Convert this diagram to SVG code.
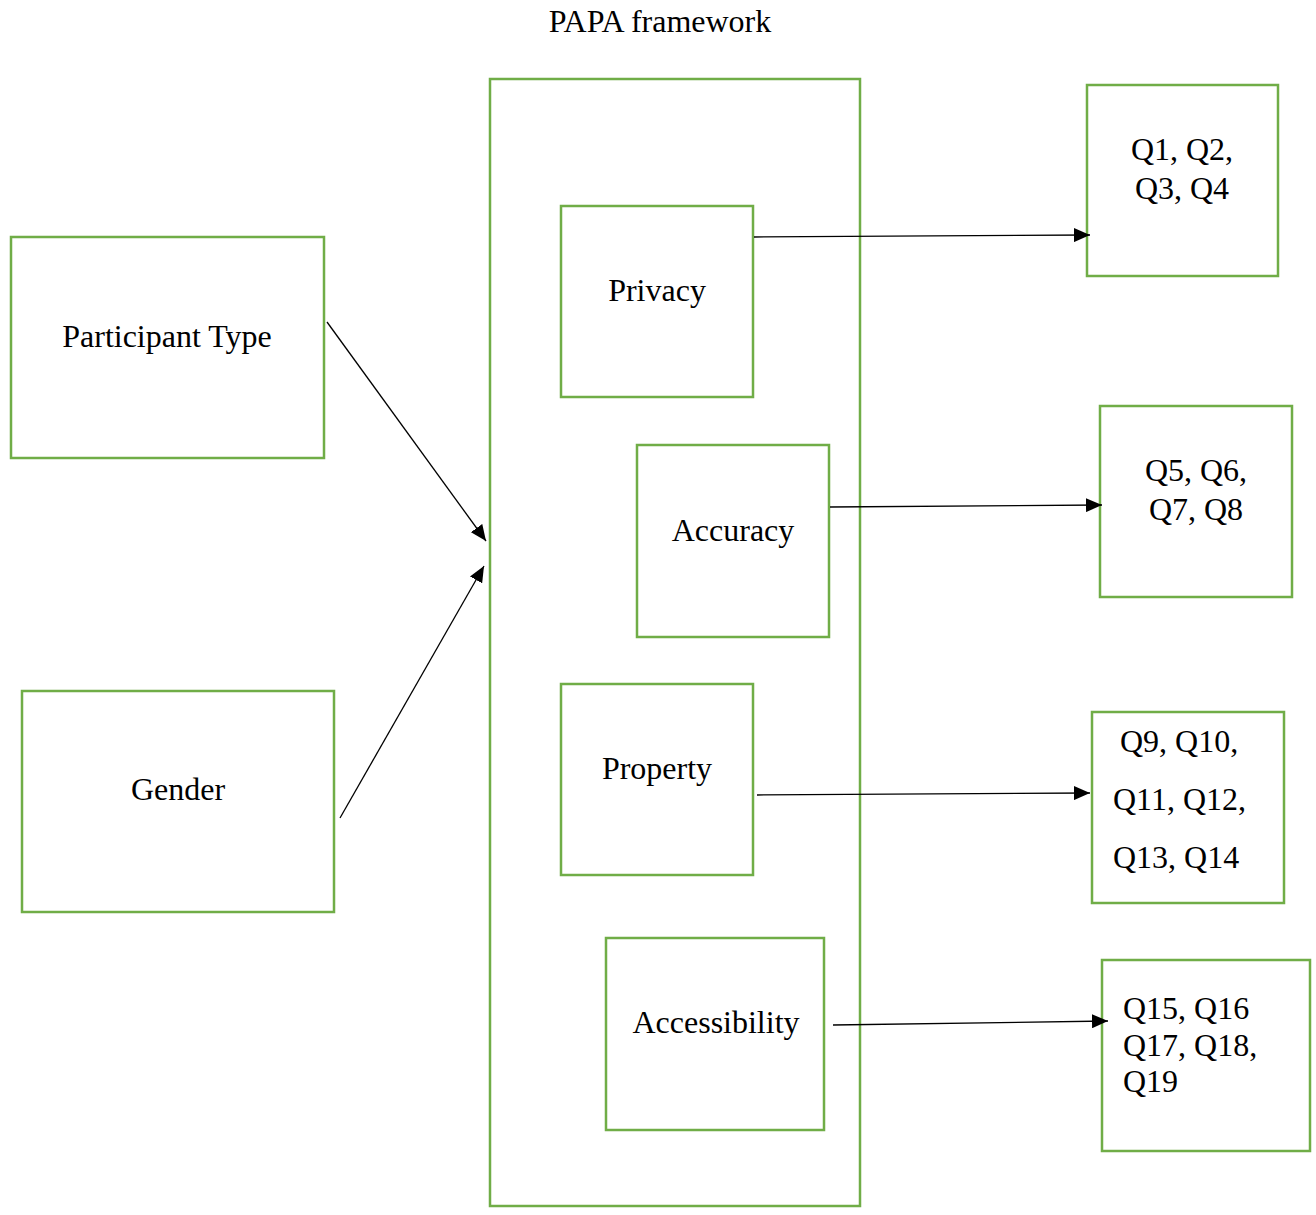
<svg xmlns="http://www.w3.org/2000/svg" width="1316" height="1215" viewBox="0 0 1316 1215">
<style>
.box{fill:none;stroke:#70AD47;stroke-width:2.5}
.t{font-family:"Liberation Serif","Times New Roman",serif;font-size:32px;fill:#000}
.c{text-anchor:middle}
.con{stroke:#000;stroke-width:1.3;fill:none;marker-end:url(#ah)}
</style>
<defs>
<marker id="ah" markerUnits="userSpaceOnUse" markerWidth="16" markerHeight="14" refX="16" refY="7" orient="auto">
<path d="M0,0 L16,7 L0,14 Z" fill="#000"/>
</marker>
</defs>
<rect width="1316" height="1215" fill="#fff"/>
<text class="t c" x="660" y="32">PAPA framework</text>
<g id="papa"><rect class="box" x="490" y="79" width="370" height="1127"/></g>
<g id="participant"><rect class="box" x="11" y="237" width="313" height="221"/><text class="t c" x="167" y="347">Participant Type</text></g>
<g id="gender"><rect class="box" x="22" y="691" width="312" height="221"/><text class="t c" x="178" y="800">Gender</text></g>
<g id="privacy"><rect class="box" x="561" y="206" width="192" height="191"/><text class="t c" x="657" y="301">Privacy</text></g>
<g id="accuracy"><rect class="box" x="637" y="445" width="192" height="192"/><text class="t c" x="733" y="541">Accuracy</text></g>
<g id="property"><rect class="box" x="561" y="684" width="192" height="191"/><text class="t c" x="657" y="779">Property</text></g>
<g id="accessibility"><rect class="box" x="606" y="938" width="218" height="192"/><text class="t c" x="716" y="1033">Accessibility</text></g>
<g id="q1"><rect class="box" x="1087" y="85" width="191" height="191"/><text class="t c" x="1182" y="160">Q1, Q2,</text><text class="t c" x="1182" y="199">Q3, Q4</text></g>
<g id="q5"><rect class="box" x="1100" y="406" width="192" height="191"/><text class="t c" x="1196" y="481">Q5, Q6,</text><text class="t c" x="1196" y="520">Q7, Q8</text></g>
<g id="q9"><rect class="box" x="1092" y="712" width="192" height="191"/><text class="t" x="1120" y="752">Q9, Q10,</text><text class="t" x="1113" y="810">Q11, Q12,</text><text class="t" x="1113" y="868">Q13, Q14</text></g>
<g id="q15"><rect class="box" x="1102" y="960" width="208" height="191"/><text class="t" x="1123" y="1019">Q15, Q16</text><text class="t" x="1123" y="1056">Q17, Q18,</text><text class="t" x="1123" y="1092">Q19</text></g>
<g id="connectors">
<line class="con" x1="327" y1="322" x2="486" y2="541"/>
<line class="con" x1="340" y1="818" x2="484" y2="566"/>
<line class="con" x1="754" y1="237" x2="1090" y2="235"/>
<line class="con" x1="830" y1="507" x2="1102" y2="505"/>
<line class="con" x1="757" y1="795" x2="1090" y2="793"/>
<line class="con" x1="833" y1="1025" x2="1108" y2="1021"/>
</g>
</svg>
